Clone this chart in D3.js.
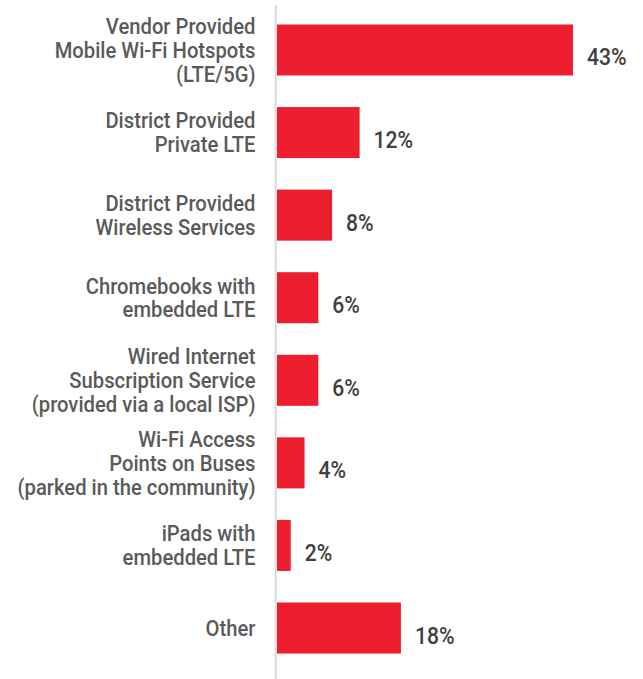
<!DOCTYPE html>
<html>
<head>
<meta charset="utf-8">
<script src="https://cdn.jsdelivr.net/npm/d3@7"></script>
<style>
  html, body { margin: 0; padding: 0; background: #fff; }
  svg { display: block; }
  text { font-family: Roboto, "Noto Sans", sans-serif; }
</style>
</head>
<body>
<svg id="chart" width="643" height="679"></svg>
<script>
const categories = [
  ["Vendor Provided", "Mobile Wi-Fi Hotspots", "(LTE/5G)"],
  ["District Provided", "Private LTE"],
  ["District Provided", "Wireless Services"],
  ["Chromebooks with", "embedded LTE"],
  ["Wired Internet", "Subscription Service", "(provided via a local ISP)"],
  ["Wi-Fi Access", "Points on Buses", "(parked in the community)"],
  ["iPads with", "embedded LTE"],
  ["Other"]
];
const values = [43, 12, 8, 6, 6, 4, 2, 18];
const valueLabels = ["43%", "12%", "8%", "6%", "6%", "4%", "2%", "18%"];

const svg = d3.select("#chart");
const W = 643, H = 679;
const ids = d3.range(values.length);

const x = d3.scaleLinear().domain([0, 43]).range([277, 573]);
const y = d3.scaleBand().domain(ids).range([8.7, 669.3]).paddingInner(0.382).paddingOuter(0.191);

const SX = 0.92;          // horizontal condensing of the text
const lineH = 24;
const capH = 15.6;

// axis line
svg.append("line")
  .attr("x1", 275.7).attr("x2", 275.7)
  .attr("y1", 5).attr("y2", H)
  .attr("stroke", "#d9d9d9").attr("stroke-width", 2);

// bars
svg.selectAll("rect.bar").data(ids).enter().append("rect")
  .attr("class", "bar")
  .attr("x", x(0))
  .attr("y", i => y(i))
  .attr("width", i => x(values[i]) - x(0))
  .attr("height", y.bandwidth())
  .attr("fill", "#ed1f2f");

// category labels
const lab = svg.selectAll("g.lab").data(ids).enter().append("g")
  .attr("class", "lab")
  .attr("transform", i => {
    const c = y(i) + y.bandwidth() / 2;
    const n = categories[i].length;
    const first = c - (n - 1) * lineH / 2 + capH / 2;
    return `translate(255.5,${first}) scale(${SX},1)`;
  });
lab.each(function(i) {
  d3.select(this).selectAll("text").data(categories[i]).enter().append("text")
    .attr("x", 0)
    .attr("y", (d, k) => k * lineH)
    .attr("text-anchor", "end")
    .attr("font-size", 22)
    .attr("font-weight", 500)
    .attr("fill", "#5a5a5a")
    .text(d => d);
});

// value labels
svg.selectAll("text.val").data(ids).enter().append("text")
  .attr("class", "val")
  .attr("transform", i => `translate(${x(values[i]) + 14},${y(i) + y.bandwidth() / 2 + 15.5}) scale(0.88,1)`)
  .attr("font-size", 24)
  .attr("font-weight", 500)
  .attr("fill", "#404040")
  .text(i => valueLabels[i]);
</script>
</body>
</html>
